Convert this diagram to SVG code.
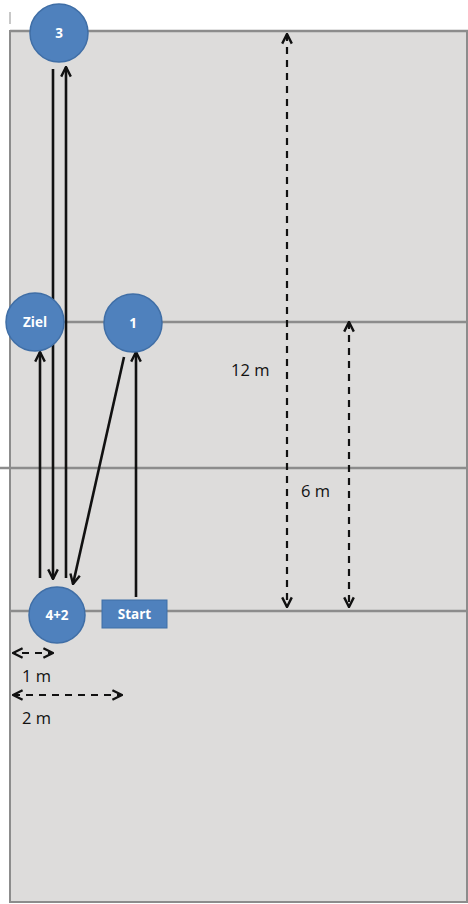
<svg xmlns="http://www.w3.org/2000/svg" width="468" height="904" viewBox="0 0 468 904">
<style>
.court{fill:#dddcdb;stroke:#8c8c8c;stroke-width:2}
.cline{stroke:#8c8c8c;stroke-width:2.5;fill:none}
.node{fill:#4f81bd;stroke:#3f6ea6;stroke-width:1.5}
.nlabel{font-family:"Open Sans","Liberation Sans",sans-serif;font-weight:bold;font-size:13.5px;fill:#ffffff;text-anchor:middle}
.arr{stroke:#111;stroke-width:2.6;fill:none}
.dash{stroke:#111;stroke-width:2.2;fill:none;stroke-dasharray:7,6}
.dim{font-family:"Open Sans","Liberation Sans",sans-serif;font-size:16.5px;fill:#111}
</style>
<defs>
<marker id="ad" viewBox="0 0 10 10" refX="9" refY="5" markerWidth="12" markerHeight="12" orient="auto-start-reverse" markerUnits="userSpaceOnUse">
<path d="M1,1 L9,5 L1,9" fill="none" stroke="#111" stroke-width="2"/>
</marker>
</defs>
<rect width="468" height="904" fill="#ffffff"/>
<line x1="10" y1="12" x2="10" y2="24" stroke="#c8c8c8" stroke-width="2"/>
<g id="court">
<rect class="court" x="10" y="31" width="457" height="871"/>
<line class="cline" x1="10" y1="31" x2="468" y2="31"/>
<line class="cline" x1="10" y1="322" x2="468" y2="322"/>
<line class="cline" x1="0" y1="468" x2="468" y2="468"/>
<line class="cline" x1="10" y1="611" x2="468" y2="611"/>
</g>
<g id="connectors">
<line class="arr" x1="40" y1="578" x2="40" y2="352" marker-end="url(#ad)"/>
<line class="arr" x1="53" y1="69" x2="53" y2="579" marker-end="url(#ad)"/>
<line class="arr" x1="66" y1="578" x2="66" y2="67" marker-end="url(#ad)"/>
<line class="arr" x1="124" y1="357" x2="73" y2="584" marker-end="url(#ad)"/>
<line class="arr" x1="136" y1="597" x2="136" y2="352" marker-end="url(#ad)"/>
<line class="dash" x1="287" y1="34" x2="287" y2="607" marker-start="url(#ad)" marker-end="url(#ad)"/>
<line class="dash" x1="349" y1="322" x2="349" y2="607" marker-start="url(#ad)" marker-end="url(#ad)"/>
<line class="dash" x1="13" y1="653" x2="53" y2="653" stroke-dasharray="6,6" stroke-dashoffset="-9" marker-start="url(#ad)" marker-end="url(#ad)"/>
<line class="dash" x1="13" y1="695" x2="122" y2="695" stroke-dasharray="7,6" marker-start="url(#ad)" marker-end="url(#ad)"/>
</g>
<g id="n3"><circle class="node" cx="59" cy="33" r="29"/><text class="nlabel" x="59" y="38">3</text></g>
<g id="nZiel"><circle class="node" cx="35" cy="322" r="29"/><text class="nlabel" x="35" y="327">Ziel</text></g>
<g id="n1"><circle class="node" cx="133" cy="323" r="29"/><text class="nlabel" x="133" y="328">1</text></g>
<g id="n42"><circle class="node" cx="57" cy="615" r="28"/><text class="nlabel" x="57" y="620">4+2</text></g>
<g id="nStart"><rect x="102" y="600" width="65" height="28" fill="#4f81bd" stroke="#3f6ea6" stroke-width="1"/><text class="nlabel" x="134.5" y="619">Start</text></g>
<g id="labels">
<text class="dim" x="231" y="376">12 m</text>
<text class="dim" x="301" y="497">6 m</text>
<text class="dim" x="22" y="682">1 m</text>
<text class="dim" x="22" y="724">2 m</text>
</g>
</svg>
